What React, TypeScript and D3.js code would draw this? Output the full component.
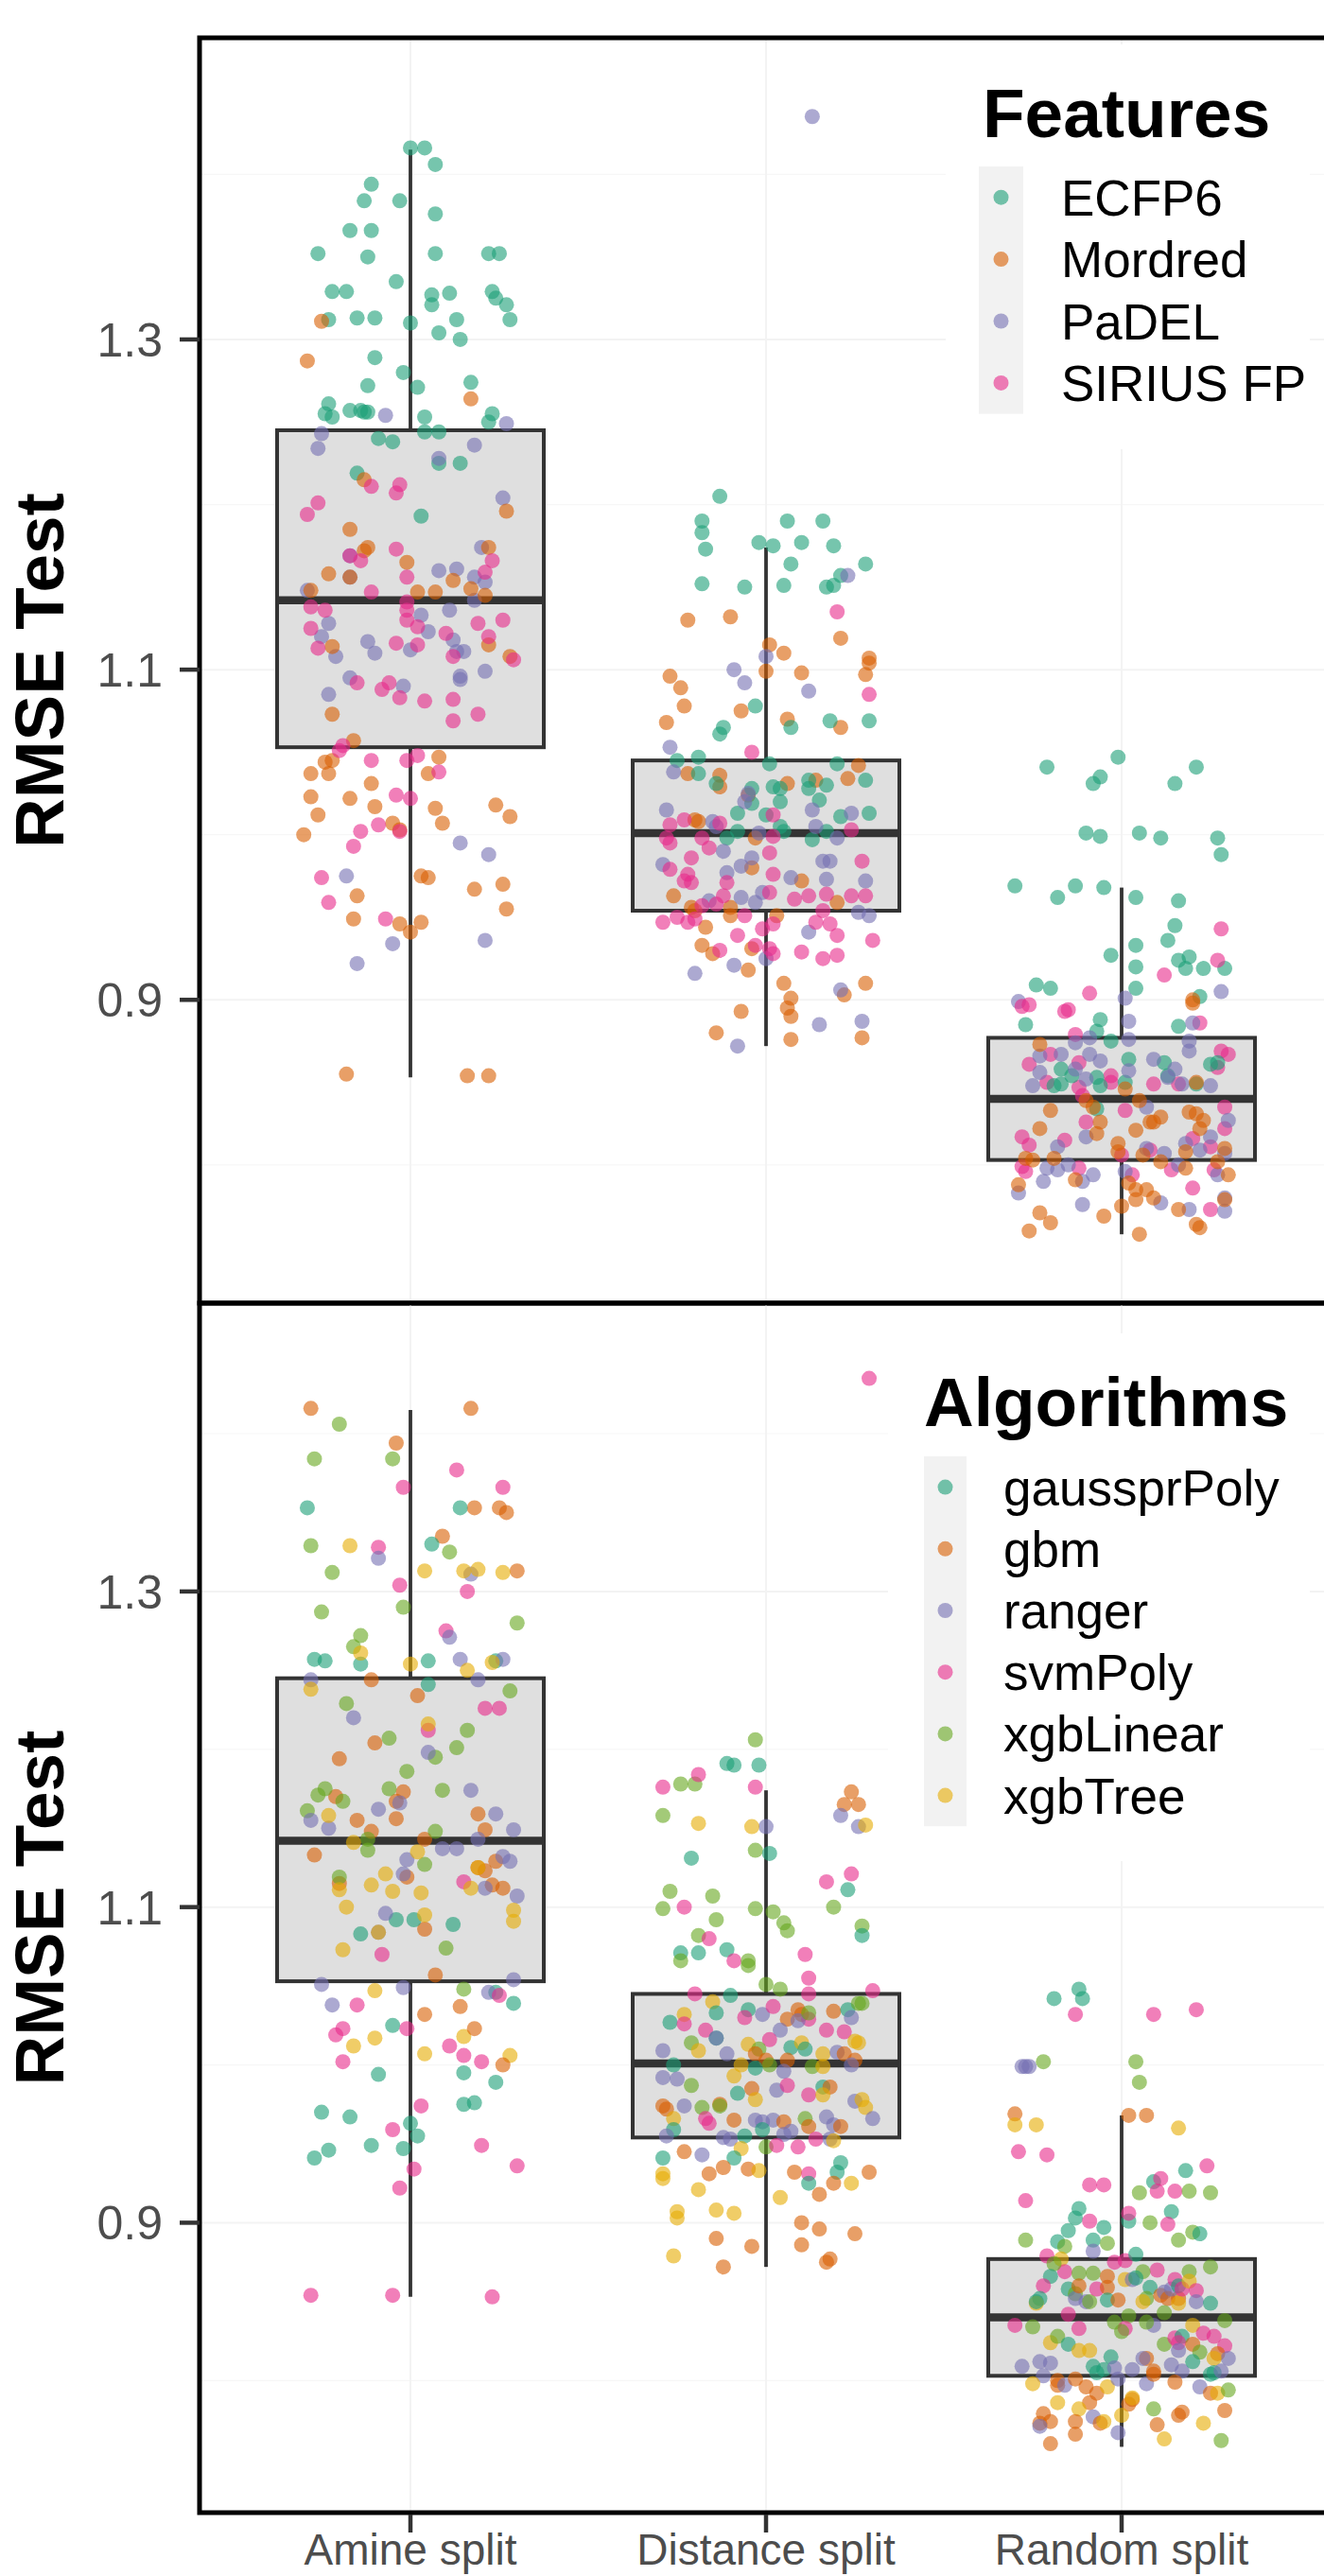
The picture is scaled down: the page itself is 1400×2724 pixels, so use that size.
import React from 'react'
import * as d3 from 'd3'

// categories and tick values
const splits = ['Amine split', 'Distance split', 'Random split']
const yTicks = [0.9, 1.1, 1.3]
const yMinor = [0.8, 1.0, 1.2, 1.4]
const yDomain = [0.7163, 1.4827]

// boxplot statistics per split (same runs in both panels)
const whiskerLow = [0.853, 0.872, 0.758]
const q1 = [1.053, 0.954, 0.803]
const median = [1.142, 1.001, 0.840]
const q3 = [1.245, 1.045, 0.877]
const whiskerHigh = [1.415, 1.174, 0.968]

const features = ['ECFP6', 'Mordred', 'PaDEL', 'SIRIUS FP']
const algorithms = ['gaussprPoly', 'gbm', 'ranger', 'svmPoly', 'xgbLinear', 'xgbTree']
const palette = ['#1B9E77', '#D95F02', '#7570B3', '#E7298A', '#66A61E', '#E6AB02']

type P = [number, number, number] // [group index, jitter (share of category step), RMSE]

const featAmine: P[] = [
  [0,0,1.416],[0,.04,1.416],[0,.07,1.406],[0,-.11,1.394],[0,-.13,1.384],[0,-.03,1.384],[0,.07,1.376],[0,-.17,1.366],[0,-.11,1.366],[0,-.26,1.352],[0,-.12,1.350],[0,.07,1.352],[0,.22,1.352],[0,.25,1.352],[0,-.04,1.335],[0,-.22,1.329],[0,-.18,1.329],[0,.06,1.327],[0,.11,1.328],[0,.23,1.329],[0,.24,1.325],[0,.27,1.321],[0,.06,1.321],[0,-.23,1.312],[0,-.15,1.313],[0,-.10,1.313],[0,0,1.310],[0,.13,1.312],[0,.28,1.312],[0,.08,1.304],[0,.14,1.300],[0,-.10,1.289],[0,-.02,1.280],[0,-.12,1.272],[0,.02,1.271],[0,.17,1.274],[0,-.23,1.261],[0,-.24,1.255],[0,-.22,1.253],[0,-.17,1.257],[0,-.14,1.257],[0,-.13,1.256],[0,-.12,1.256],[0,.04,1.253],[0,.23,1.255],[0,.22,1.250],[0,-.09,1.240],[0,-.05,1.238],[0,.04,1.244],[0,.08,1.244],[0,-.15,1.219],[0,.08,1.225],[0,.14,1.225],[0,.03,1.193],
  [2,-.07,1.254],[2,.27,1.249],[2,-.25,1.243],[2,-.26,1.234],[2,.18,1.236],[2,.08,1.228],[2,.26,1.204],[2,.20,1.174],[2,-.17,1.169],[2,.08,1.160],[2,.13,1.161],[2,-.17,1.156],[2,.18,1.156],[2,.21,1.153],[2,-.29,1.148],[2,.18,1.142],[2,.11,1.136],[2,.03,1.133],[2,-.23,1.128],[2,.05,1.123],[2,-.25,1.120],[2,-.12,1.117],[2,0,1.112],[2,-.10,1.110],[2,.12,1.118],[2,.13,1.111],[2,.15,1.111],[2,-.21,1.108],
  [2,-.17,1.095],[2,-.02,1.090],[2,-.23,1.085],[2,.14,1.096],[2,.14,1.094],[2,.21,1.099],[2,.14,.995],[2,.22,.988],[2,-.18,.975],[2,-.05,.934],[2,.21,.936],[2,-.15,.922],
  [1,-.25,1.311],[1,-.29,1.287],[1,.17,1.264],[1,-.13,1.215],[1,-.17,1.185],[1,-.13,1.172],[1,-.12,1.174],[1,-.01,1.165],[1,-.23,1.158],[1,-.17,1.156],[1,.12,1.154],[1,.22,1.174],[1,-.28,1.148],[1,.02,1.147],[1,.07,1.147],[1,.17,1.149],[1,.21,1.145],[1,.27,1.196],[1,.22,1.115],[1,.28,1.108],[1,-.22,1.114],
  [1,-.22,1.073],[1,-.16,1.057],[1,-.24,1.044],[1,-.22,1.045],[1,-.28,1.037],[1,-.23,1.037],[1,.08,1.047],[1,.05,1.037],[1,-.11,1.031],[1,-.28,1.023],[1,-.17,1.022],[1,-.10,1.017],[1,-.26,1.012],[1,.07,1.016],[1,.24,1.018],[1,.28,1.011],[1,-.30,1.000],[1,-.05,1.007],[1,-.03,1.003],[1,.09,1.007],[1,.03,.975],[1,.05,.974],[1,.18,.967],[1,.26,.970],[1,-.15,.963],[1,.27,.955],[1,-.16,.949],[1,-.03,.946],[1,.03,.947],[1,0,.941],[1,-.18,.855],[1,.16,.854],[1,.22,.854],
  [3,-.03,1.212],[3,-.11,1.211],[3,-.04,1.207],[3,-.26,1.201],[3,-.29,1.194],[3,-.04,1.173],[3,-.17,1.169],[3,-.14,1.166],[3,.23,1.166],[3,-.01,1.156],[3,.21,1.159],[3,-.11,1.147],[3,-.01,1.141],[3,-.01,1.136],[3,-.28,1.138],[3,-.24,1.136],[3,-.01,1.130],[3,-.28,1.125],[3,.19,1.128],[3,.02,1.126],[3,.26,1.130],[3,.10,1.122],[3,.22,1.120],[3,-.26,1.113],[3,-.04,1.116],[3,.02,1.115],[3,.12,1.108],[3,.29,1.106],
  [3,-.15,1.092],[3,-.08,1.088],[3,-.06,1.092],[3,-.03,1.083],[3,.04,1.081],[3,.12,1.082],[3,.12,1.069],[3,.19,1.073],[3,-.20,1.051],[3,-.19,1.054],[3,.02,1.048],[3,-.01,1.045],[3,-.11,1.045],[3,.08,1.038],[3,-.04,1.024],[3,0,1.022],[3,-.09,1.006],[3,-.14,1.002],[3,-.03,1.002],[3,-.16,.993],[3,-.25,.974],[3,-.23,.959],[3,-.07,.949],
]

const featDistance: P[] = [
  [2,.13,1.435],
  [0,-.13,1.205],[0,-.18,1.190],[0,-.18,1.183],[0,-.17,1.173],[0,.06,1.190],[0,.16,1.190],[0,-.02,1.177],[0,.02,1.175],[0,.10,1.177],[0,.19,1.175],[0,.07,1.164],[0,.28,1.164],[0,-.18,1.152],[0,-.06,1.150],[0,.05,1.151],[0,.17,1.150],[0,.19,1.151],[0,.21,1.157],
  [2,.23,1.157],[3,.20,1.135],[1,-.22,1.130],[1,-.10,1.132],[1,.21,1.119],[1,.01,1.115],[1,.05,1.110],[1,.29,1.107],[2,0,1.108],
  [1,-.27,1.096],[1,-.24,1.089],[1,-.23,1.078],[1,0,1.099],[1,.10,1.098],[1,.28,1.097],[1,.29,1.104],[1,-.07,1.075],[2,-.09,1.100],[2,-.06,1.092],[2,.12,1.087],[3,.29,1.085],[0,-.03,1.078],
  [1,-.28,1.068],[1,.06,1.070],[1,.21,1.065],[1,.26,1.042],[1,-.22,1.037],[1,-.13,1.036],[1,-.13,1.029],[1,-.05,1.024],[1,.06,1.031],[1,.14,1.033],[1,.23,1.034],[1,-.20,1.009],[1,-.19,1.008],[1,-.03,.998],[1,-.04,.980],[1,.10,.972],[1,-.26,.963],[1,.20,.959],[1,-.21,.956],[1,-.20,.954],[1,-.10,.956],[1,-.10,.951],[1,.03,.951],[1,-.17,.944],[1,-.18,.933],[1,-.15,.928],[1,-.04,.931],[1,-.05,.918],[1,.05,.910],[1,.28,.910],
  [0,-.12,1.065],[0,-.13,1.061],[0,.07,1.065],[0,.18,1.069],[0,.29,1.069],[0,-.25,1.045],[0,-.19,1.047],[0,.01,1.043],[0,.20,1.043],[0,-.19,1.037],[0,-.14,1.031],[0,-.04,1.028],[0,.02,1.029],[0,.04,1.028],[0,.12,1.028],[0,.12,1.033],[0,.17,1.030],[0,.28,1.033],[0,-.04,1.019],[0,.04,1.020],[0,.15,1.021],[0,-.08,1.013],[0,0,1.012],[0,.21,1.011],[0,.29,1.013],[0,-.11,.998],[0,-.08,1.002],[0,.04,1.005],[0,.05,1.002],[0,.13,.997],[0,.17,1.002],
  [2,-.27,1.053],[2,-.26,1.038],[2,-.05,1.025],[2,-.06,1.020],[2,.13,1.015],[2,-.28,1.015],[2,.24,1.013],[2,-.15,1.008],[2,-.14,1.005],[2,-.02,1.001],[2,.14,1.005],[2,.20,.998],[2,-.12,.990],[2,-.29,.982],[2,-.04,.986],[2,-.07,.981],[2,.16,.984],[2,.18,.984],[2,-.11,.977],[2,.07,.974],[2,.17,.973],[2,.28,.972],[2,-.07,.962],[2,-.03,.959],[2,-.01,.965],[2,-.16,.960],[2,.26,.953],[2,.29,.951],[2,.12,.941],[2,0,.925],[2,-.09,.921],[2,-.20,.916],
  [3,-.04,1.050],[3,.02,1.012],[3,-.27,1.006],[3,-.23,1.009],[3,-.13,1.007],[3,.02,.999],[3,.24,1.003],[3,-.28,.998],[3,-.27,.995],[3,-.18,.998],[3,-.16,.992],[3,-.21,.986],[3,-.27,.979],[3,.01,.989],[3,.27,.984],[3,-.22,.976],[3,.02,.976],[3,-.23,.972],[3,-.21,.971],[3,-.11,.971],[3,-.12,.963],[3,.01,.965],[3,.08,.961],[3,.12,.963],[3,.17,.964],[3,.24,.963],[3,.28,.963],[3,-.18,.957],[3,-.14,.958],[3,-.06,.951],[3,.16,.954],[3,-.29,.947],[3,-.25,.950],[3,-.22,.947],[3,-.20,.949],[3,-.01,.943],[3,.02,.946],[3,.14,.947],[3,.18,.946],[3,-.08,.939],[3,.20,.939],[3,-.13,.930],[3,-.03,.933],[3,.01,.931],[3,.02,.928],[3,.10,.929],[3,.16,.925],[3,.20,.927],[3,.30,.936],
  [1,.07,.901],[1,.06,.895],[1,.07,.890],[1,-.07,.893],[1,-.14,.880],[1,.07,.876],[1,.27,.877],[1,.22,.903],[2,.21,.906],[2,.15,.885],[2,.27,.887],[2,-.08,.872],
]

const featRandom: P[] = [
  [0,-.01,1.047],[0,-.21,1.041],[0,.21,1.041],[0,-.06,1.035],[0,-.08,1.031],[0,.15,1.031],[0,-.10,1.001],[0,-.06,.999],[0,.05,1.001],[0,.11,.998],[0,.27,.998],[0,.28,.988],[0,-.30,.969],[0,-.18,.962],[0,-.13,.969],[0,-.05,.968],[0,.04,.962],[0,.16,.960],[0,.15,.945],[0,.13,.936],[0,.04,.933],[0,-.03,.927],[0,.04,.920],[0,.16,.924],[0,.19,.926],[0,.18,.919],[0,.23,.919],[0,.29,.919],[0,.04,.907],[0,-.24,.909],[0,-.20,.907],[0,.22,.902],
  [3,.28,.943],[3,.27,.924],[3,.12,.915],[3,-.09,.904],[2,.28,.905],[2,.01,.901],[2,-.29,.899],[1,.20,.900],
  [3,-.28,.896],[3,-.26,.897],[3,-.16,.893],[3,-.15,.894],[3,-.13,.879],[3,.22,.886],[3,-.20,.867],[3,-.26,.861],[3,-.12,.862],[3,-.03,.854],[3,-.21,.850],[3,-.12,.847],[3,-.03,.850],[3,.09,.849],[3,.16,.849],[3,.28,.869],[3,.30,.867],[3,.27,.859],[3,-.11,.842],[3,.01,.833],[3,.29,.835],[3,-.10,.826],[3,-.28,.817],[3,-.26,.812],[3,-.16,.815],[3,.29,.822],[3,.20,.816],[3,.25,.811],[3,0,.806],[3,.08,.809],[3,-.28,.799],[3,-.27,.796],[3,-.12,.798],[3,.03,.794],[3,.14,.797],[3,.26,.797],[3,.20,.786],[3,.25,.773],
  [0,-.27,.885],[0,-.06,.888],[0,-.07,.881],[0,-.03,.875],[0,.16,.884],[0,.02,.864],[0,-.17,.858],[0,-.14,.854],[0,-.07,.853],[0,-.19,.848],[0,-.17,.849],[0,-.06,.848],[0,.01,.850],[0,.12,.862],[0,.13,.854],[0,.21,.849],[0,.25,.861],[0,.27,.862],[0,-.07,.834],
  [2,.02,.887],[2,-.09,.877],[2,.02,.876],[2,-.13,.874],[2,.20,.886],[2,.19,.875],[2,.19,.869],[2,-.23,.866],[2,-.17,.867],[2,-.09,.867],[2,-.06,.863],[2,-.23,.856],[2,-.13,.858],[2,-.10,.852],[2,.02,.857],[2,-.25,.848],[2,.09,.864],[2,.15,.858],[2,.13,.853],[2,.17,.849],[2,.25,.848],[2,.07,.835],[2,.30,.827],[2,-.10,.817],[2,-.18,.811],[2,.25,.817],[2,.18,.813],[2,.07,.810],[2,.12,.807],[2,.22,.809],[2,.29,.807],[2,-.21,.798],[2,-.18,.797],[2,-.15,.800],[2,-.08,.794],[2,-.11,.790],[2,.01,.796],[2,.16,.800],[2,.27,.794],[2,-.22,.790],[2,-.29,.783],[2,.11,.777],[2,.19,.773],[2,.29,.780],[2,.29,.772],[2,-.11,.776],
  [1,.20,.898],[1,-.23,.873],[1,.01,.846],[1,.21,.850],[1,-.10,.839],[1,-.08,.835],[1,-.20,.833],[1,.05,.839],[1,.11,.829],[1,.08,.826],[1,.09,.826],[1,.19,.832],[1,.21,.831],[1,.23,.827],[1,-.23,.822],[1,-.06,.826],[1,-.07,.819],[1,.04,.821],[1,-.01,.813],[1,.22,.822],[1,.29,.810],[1,-.01,.808],[1,.06,.806],[1,.18,.808],[1,-.27,.804],[1,-.25,.803],[1,-.19,.804],[1,-.13,.791],[1,.11,.802],[1,.18,.798],[1,.27,.802],[1,.30,.794],[1,-.29,.788],[1,.02,.789],[1,.04,.785],[1,.07,.785],[1,.09,.780],[1,.04,.779],[1,.16,.773],[1,.29,.779],[1,-.23,.771],[1,-.20,.765],[1,-.05,.769],[1,0,.775],[1,.21,.764],[1,.22,.762],[1,-.26,.760],[1,.05,.758],
]

const algAmine: P[] = [
  [1,-.28,1.416],[1,.17,1.416],[1,-.04,1.394],[1,.18,1.353],[1,.25,1.353],[1,.27,1.350],[1,.09,1.335],[1,.30,1.313],[1,-.11,1.244],[1,.02,1.234],[1,-.10,1.204],[1,-.20,1.194],[1,-.02,1.173],[1,-.04,1.167],[1,-.21,1.170],[1,-.15,1.155],[1,-.11,1.148],[1,-.04,1.156],[1,.19,1.159],[1,.21,1.149],[1,.04,1.143],[1,-.27,1.133],[1,-.20,1.115],[1,-.01,1.119],[1,.19,1.125],[1,.21,1.123],[1,.24,1.129],[1,.23,1.114],[1,.26,1.112],[1,.04,1.086],
  [4,-.20,1.406],[4,-.27,1.384],[4,-.05,1.384],[4,-.28,1.329],[4,.11,1.325],[4,-.22,1.312],[4,-.25,1.287],[4,-.02,1.290],[4,.30,1.280],[4,-.14,1.272],[4,-.16,1.265],[4,.28,1.237],[4,-.18,1.229],[4,-.06,1.207],[4,.16,1.212],[4,.13,1.201],[4,.07,1.195],[4,-.01,1.186],[4,-.06,1.175],[4,-.24,1.175],[4,-.26,1.171],[4,-.19,1.167],[4,-.29,1.161],[4,.09,1.174],[4,.07,1.148],[4,-.12,1.136],[4,.04,1.127],[4,-.20,1.119],[4,-.12,1.143],
  [0,-.29,1.353],[0,.14,1.353],[0,.06,1.330],[0,-.27,1.257],[0,-.24,1.256],[0,-.14,1.254],[0,.05,1.256],[0,.05,1.241],[0,.24,1.256],[0,-.04,1.092],[0,.01,1.092],[0,.12,1.089],[0,-.14,1.083],
  [3,.13,1.377],[3,-.02,1.366],[3,.26,1.366],[3,-.09,1.328],[3,-.03,1.304],[3,.16,1.300],[3,.10,1.275],[3,.21,1.226],[3,.25,1.226],[3,.05,1.212],[3,.15,1.116],
  [2,-.09,1.321],[2,.17,1.311],[2,.11,1.271],[2,.14,1.257],[2,.26,1.257],[2,.19,1.244],[2,-.28,1.244],[2,-.16,1.220],[2,.05,1.198],[2,.17,1.174],[2,-.09,1.162],[2,-.03,1.166],[2,-.28,1.155],[2,-.23,1.150],[2,.24,1.159],[2,.29,1.149],[2,.09,1.137],[2,.13,1.137],[2,.19,1.143],[2,-.01,1.130],[2,.26,1.132],[2,.28,1.129],[2,-.02,1.121],[2,.30,1.107],[2,.21,1.112],[2,-.07,1.096],[2,-.09,1.084],
  [5,-.17,1.329],[5,.04,1.313],[5,.15,1.313],[5,.19,1.314],[5,.26,1.312],[5,-.14,1.261],[5,0,1.254],[5,.16,1.250],[5,.23,1.255],[5,-.28,1.238],[5,.05,1.216],[5,-.23,1.158],[5,-.16,1.141],[5,.02,1.135],[5,-.07,1.121],[5,-.11,1.114],[5,-.05,1.110],[5,-.20,1.111],[5,.03,1.109],[5,.17,1.112],[5,.19,1.125],[5,-.18,1.100],[5,.04,1.095],[5,.29,1.098],[5,.29,1.091],
  [0,-.05,1.025],[0,-.09,.994],[0,.15,.995],[0,.24,.989],[0,-.25,.970],[0,-.17,.967],[0,.15,.975],[0,.18,.976],[0,0,.963],[0,.02,.955],[0,-.11,.949],[0,-.02,.947],[0,-.23,.946],[0,-.27,.941],[0,.29,1.039],[0,.24,1.046],
  [2,-.25,1.051],[2,-.02,1.049],[2,-.22,1.038],[2,.22,1.046],[2,.29,1.054],
  [5,-.09,1.084],[5,-.19,1.073],[5,-.10,1.047],[5,-.10,1.017],[5,-.16,1.012],[5,.04,1.007],[5,.15,1.018],[5,.28,1.006],
  [3,-.08,1.070],[3,-.15,1.038],[3,-.19,1.023],[3,-.21,1.019],[3,-.01,1.023],[3,-.19,1.002],[3,.11,1.012],[3,.15,1.006],[3,.20,1.002],[3,.03,.974],[3,-.05,.959],[3,.01,.934],[3,.20,.949],[3,.30,.936],[3,-.03,.922],[3,-.28,.854],[3,-.05,.854],[3,.23,.853],[3,.25,1.044],
  [1,.07,1.057],[1,.04,1.032],[1,.14,1.037],[1,.18,1.023],[1,.26,1.000],
  [4,.10,1.074],[4,.15,1.048],
]

const algDistance: P[] = [
  [3,.29,1.435],
  [4,-.03,1.206],[4,-.24,1.178],[4,-.20,1.178],[4,-.29,1.158],[4,-.03,1.136],[4,-.27,1.110],[4,-.15,1.107],[4,-.29,1.099],[4,-.14,1.092],[4,-.03,1.099],[4,.02,1.097],[4,.19,1.100],[4,.27,1.088],[4,.05,1.090],[4,.06,1.085],[4,-.19,1.082],
  [0,-.11,1.191],[0,-.09,1.190],[0,-.02,1.190],[0,-.21,1.131],[0,.01,1.134],[0,.23,1.111],[0,.27,1.082],
  [3,-.19,1.184],[3,-.03,1.176],[3,-.29,1.176],[3,-.23,1.100],[3,.17,1.116],[3,.24,1.121],[3,-.16,1.080],
  [1,.24,1.173],[1,.22,1.165],[1,.26,1.165],[2,0,1.151],[2,.21,1.158],[2,.26,1.151],[5,-.19,1.153],[5,-.04,1.151],[5,.28,1.152],
  [0,-.24,1.071],[4,-.24,1.066],[0,-.19,1.071],[0,-.11,1.073],[3,-.09,1.066],[4,-.05,1.066],[4,-.05,1.063],[3,.11,1.070],[4,0,1.051],[4,.04,1.048],[3,.12,1.055],[3,.12,1.045],[3,.30,1.047],[3,-.20,1.045],[0,-.10,1.044],[5,-.15,1.040],[0,-.14,1.033],[5,-.23,1.032],[0,-.27,1.027],[3,-.23,1.026],[0,-.05,1.035],[3,-.06,1.030],[2,-.01,1.032],[3,.02,1.037],[1,.06,1.029],[1,.09,1.035],[1,.10,1.032],[3,.12,1.029],[2,.09,1.028],[4,.12,1.033],[1,.19,1.034],[0,.23,1.035],[4,.26,1.039],[4,.27,1.039],[2,.24,1.030],
  [3,-.17,1.022],[0,-.14,1.017],[2,-.14,1.017],[2,.04,1.022],[3,.01,1.016],[3,.17,1.022],[3,.22,1.021],[5,.25,1.015],[5,.26,1.014],[4,-.21,1.014],[5,-.19,1.009],[2,-.29,1.009],[2,-.11,1.007],[5,-.05,1.013],[4,-.02,1.010],[1,-.03,1.007],[1,0,1.003],[4,.01,1.000],[0,.07,1.011],[5,.10,1.014],[0,.11,1.010],[5,.16,1.007],[2,.20,1.008],[1,.22,1.007],[1,.25,1.003],[2,.24,1.000],[0,-.26,1.000],[5,-.07,1.000],[1,.06,1.003],[4,.13,.999],[5,.16,.999],[0,-.03,.998],[2,.05,.996],[5,-.09,.993],[2,-.29,.992],[2,-.25,.991],[4,-.21,.987],
  [0,-.08,.982],[1,-.04,.985],[5,-.03,.978],[2,.03,.984],[3,.06,.987],[3,.12,.981],[0,.16,.986],[1,.18,.986],[5,.16,.981],[2,.25,.977],[5,.27,.978],[5,.28,.973],[1,-.29,.974],[1,-.28,.972],[2,-.23,.974],[4,-.18,.973],[1,-.13,.975],[4,-.13,.974],[5,-.26,.966],[3,-.17,.966],[3,-.16,.963],[1,-.09,.965],[2,-.03,.965],[2,-.01,.964],[2,.02,.965],[0,-.01,.959],[1,.05,.964],[2,.07,.958],[2,.05,.956],[4,.11,.966],[1,.12,.961],[2,.17,.967],[2,.19,.962],[1,.21,.961],[2,.30,.966],
  [0,-.26,.959],[2,-.28,.955],[2,-.12,.954],[2,-.10,.953],[0,-.06,.955],[4,0,.948],[3,.03,.949],[3,.09,.948],[3,.14,.953],[2,.18,.953],[5,.19,.952],[0,-.29,.941],[1,-.23,.945],[2,-.18,.943],[5,-.07,.947],[0,-.09,.941],[0,.21,.938],[1,-.12,.935],[1,-.05,.934],[5,-.02,.933],[1,.08,.932],[1,.29,.932],[1,-.16,.931],[3,.12,.931],[5,-.29,.931],[0,.20,.932],
  [5,.24,.925],[0,.12,.925],[1,.15,.918],[1,.19,.925],[5,.04,.916],[5,-.19,.921],[5,-.25,.907],[5,-.25,.903],[5,-.14,.908],[5,-.09,.906],[1,.10,.900],[1,.15,.896],[1,.25,.893],[1,-.14,.890],[1,-.04,.885],[1,.10,.886],[5,-.26,.879],[1,-.12,.872],[1,.17,.875],[1,.18,.877],[5,-.29,.928],
]

const algRandom: P[] = [
  [0,-.12,1.048],[0,-.11,1.042],[0,-.19,1.042],[0,.18,.933],[0,.09,.926],[0,.14,.907],[0,-.12,.909],[0,-.13,.903],[0,-.15,.895],[0,-.05,.897],[0,.02,.901],
  [3,-.13,1.032],[3,.09,1.032],[3,.21,1.035],[3,-.29,.945],[3,-.21,.943],[3,-.09,.924],[3,-.05,.924],[3,-.27,.914],[3,.10,.920],[3,.15,.920],[3,.24,.936],[3,.02,.906],[3,-.09,.901],[3,.13,.899],[3,.11,.928],
  [2,-.28,.999],[2,-.27,.999],[2,-.26,.999],
  [4,-.22,1.002],[4,.04,1.002],[4,.05,.989],[4,.05,.919],[4,.19,.920],[4,.25,.919],[4,.08,.900],[4,.20,.894],
  [1,-.30,.969],[1,.02,.968],[1,.07,.968],[5,-.30,.962],[5,-.24,.962],[5,.16,.960],
  [4,-.27,.889],[0,-.18,.888],[4,-.16,.885],[0,-.08,.889],[2,-.08,.882],[4,-.04,.887],[4,.16,.889],[0,.22,.893],[3,-.21,.879],[5,-.17,.877],[3,-.16,.869],[4,-.19,.874],[0,-.20,.866],[4,-.12,.868],[4,-.08,.868],[3,-.02,.875],[3,.01,.876],[0,.04,.880],[3,.10,.870],[4,.06,.869],[4,.19,.869],[4,.25,.872],[1,-.04,.866],[5,.01,.864],[2,.03,.864],[0,.04,.865],
  [3,-.22,.860],[0,-.23,.852],[5,-.24,.849],[0,-.24,.850],[0,-.15,.858],[4,-.13,.855],[2,-.13,.852],[2,-.10,.850],[4,-.09,.850],[1,-.12,.860],[3,-.07,.858],[1,-.04,.859],[0,-.04,.851],[1,-.01,.851],[0,.08,.859],[4,.07,.852],[5,.06,.850],[1,.11,.854],[2,.12,.856],[1,.13,.852],[1,.16,.852],[5,.16,.849],[2,.14,.858],[3,.15,.864],[0,.16,.860],[3,.17,.858],[5,.19,.863],[3,.21,.857],[2,.21,.850],[0,.25,.849],
  [3,-.15,.842],[4,.12,.843],[4,.02,.841],[3,-.30,.835],[4,-.25,.834],[4,-.02,.837],[2,.09,.835],[4,.07,.837],[3,-.12,.833],[3,.01,.833],[4,0,.831],[5,.20,.835],[4,.29,.838],[5,-.20,.824],[4,-.18,.828],[0,-.15,.823],[5,-.12,.819],[5,-.09,.819],[0,-.03,.815],[4,.12,.823],[3,.15,.827],[0,.17,.828],[3,.16,.824],[2,.16,.819],[1,.20,.823],[3,.23,.830],[3,.26,.828],[4,.22,.818],[3,.29,.822],[1,.27,.817],[2,.30,.814],
  [2,-.28,.809],[2,-.23,.812],[2,-.20,.811],[2,-.22,.803],[0,-.08,.809],[0,-.05,.807],[0,-.07,.805],[2,-.02,.808],[2,.03,.807],[1,.07,.814],[2,.06,.814],[1,.09,.806],[2,.14,.810],[2,.17,.806],[0,.20,.812],[5,.26,.814],[0,.25,.804],[0,.26,.805],[2,.28,.806],
  [5,-.25,.798],[1,-.18,.800],[1,-.18,.797],[2,-.16,.797],[1,-.13,.801],[1,-.10,.796],[1,-.07,.792],[5,-.04,.796],[2,-.01,.801],[1,.03,.788],[1,.02,.785],[5,.03,.789],[1,-.09,.786],[2,.07,.798],[1,.09,.804],[1,.15,.799],[2,.22,.796],[1,.25,.792],[5,.27,.792],[4,.30,.794],
  [5,-.18,.786],[5,-.12,.782],[2,-.08,.777],[1,-.22,.779],[1,-.20,.774],[1,-.23,.773],[2,-.23,.771],[1,-.13,.774],[1,-.06,.773],[5,-.05,.774],[5,0,.778],[4,.09,.782],[1,.16,.778],[1,.17,.780],[1,.29,.781],[1,.10,.772],[5,.23,.773],[1,-.13,.766],[2,-.01,.767],[5,.12,.763],[1,-.20,.760],[4,.28,.762],
]

const FONT = "'Liberation Sans', Arial, Helvetica, sans-serif"

export default function App() {
  const W = 1400
  const H = 2724
  const left = 211
  const right = 1414

  const x = d3.scalePoint<string>().domain(splits).range([434, 1186])
  const step = x.step()
  const boxW = step * 0.75

  const panels = [
    {
      y0: 40, y1: 1378, title: 'Features', keys: features,
      data: [featAmine, featDistance, featRandom],
      lg: { x0: 1000, y0: 47, x1: 1385, y1: 475, titleX: 1039, titleY: 145, kx: 1035, ky: 176, kw: 47, kh: 65.4, tx: 1122 },
    },
    {
      y0: 1378, y1: 2657, title: 'Algorithms', keys: algorithms,
      data: [algAmine, algDistance, algRandom],
      lg: { x0: 939, y0: 1410, x1: 1385, y1: 1968, titleX: 977, titleY: 1508, kx: 977, ky: 1540, kw: 45, kh: 65.2, tx: 1061 },
    },
  ]

  return (
    <svg width={W} height={H} viewBox={`0 0 ${W} ${H}`} style={{ display: 'block', background: '#fff' }} fontFamily={FONT}>
      <style>{'body{margin:0}'}</style>
      <rect x={0} y={0} width={W} height={H} fill="#fff" />
      {panels.map((p, pi) => {
        const y = d3.scaleLinear().domain(yDomain).range([p.y1, p.y0])
        const mid = (p.y0 + p.y1) / 2
        return (
          <g key={pi}>
            {/* grid */}
            {yMinor.map(v => (
              <line key={'mn' + v} x1={left} x2={right} y1={y(v)} y2={y(v)} stroke="#F7F7F7" strokeWidth={1.2} />
            ))}
            {yTicks.map(v => (
              <line key={'mj' + v} x1={left} x2={right} y1={y(v)} y2={y(v)} stroke="#F3F3F3" strokeWidth={2} />
            ))}
            {splits.map(s => (
              <line key={'vg' + s} x1={x(s)} x2={x(s)} y1={p.y0} y2={p.y1} stroke="#F3F3F3" strokeWidth={2} />
            ))}

            {/* boxes */}
            {splits.map((s, i) => {
              const cx = x(s)!
              return (
                <g key={'bx' + s}>
                  <line x1={cx} x2={cx} y1={y(whiskerHigh[i])} y2={y(q3[i])} stroke="#333" strokeWidth={3.8} />
                  <line x1={cx} x2={cx} y1={y(q1[i])} y2={y(whiskerLow[i])} stroke="#333" strokeWidth={3.8} />
                  <rect x={cx - boxW / 2} y={y(q3[i])} width={boxW} height={y(q1[i]) - y(q3[i])} fill="#DFDFDF" stroke="#333" strokeWidth={4} />
                  <line x1={cx - boxW / 2} x2={cx + boxW / 2} y1={y(median[i])} y2={y(median[i])} stroke="#333" strokeWidth={8.5} />
                </g>
              )
            })}

            {/* jittered points */}
            {splits.map((s, i) => (
              <g key={'pt' + s}>
                {p.data[i].map((d, k) => (
                  <circle key={k} cx={x(s)! + d[1] * step} cy={y(d[2])} r={8} fill={palette[d[0]]} fillOpacity={0.6} />
                ))}
              </g>
            ))}

            {/* panel border */}
            <rect x={left} y={p.y0} width={right - left} height={p.y1 - p.y0} fill="none" stroke="#000" strokeWidth={5} />

            {/* y axis */}
            {yTicks.map(v => (
              <g key={'yt' + v}>
                <line x1={190} x2={left} y1={y(v)} y2={y(v)} stroke="#333" strokeWidth={4.5} />
                <text x={172} y={y(v)} dy="0.36em" textAnchor="end" fontSize={50} fill="#4D4D4D">{d3.format('.1f')(v)}</text>
              </g>
            ))}
            <text transform={`translate(67,${mid}) rotate(-90)`} textAnchor="middle" fontSize={73} fontWeight="bold" fill="#000">RMSE Test</text>

            {/* legend */}
            <rect x={p.lg.x0} y={p.lg.y0} width={p.lg.x1 - p.lg.x0} height={p.lg.y1 - p.lg.y0} fill="#fff" />
            <text x={p.lg.titleX} y={p.lg.titleY} fontSize={73} fontWeight="bold" fill="#000">{p.title}</text>
            <rect x={p.lg.kx} y={p.lg.ky} width={p.lg.kw} height={p.lg.kh * p.keys.length} fill="#F2F2F2" />
            {p.keys.map((k, ki) => {
              const cy = p.lg.ky + p.lg.kh * (ki + 0.5)
              return (
                <g key={k}>
                  <circle cx={p.lg.kx + p.lg.kw / 2} cy={cy} r={8} fill={palette[ki]} fillOpacity={0.6} />
                  <text x={p.lg.tx} y={cy} dy="0.36em" fontSize={53} fill="#000">{k}</text>
                </g>
              )
            })}
          </g>
        )
      })}

      {/* x axis (bottom panel) */}
      {splits.map(s => (
        <g key={'xt' + s}>
          <line x1={x(s)} x2={x(s)} y1={2659} y2={2678} stroke="#333" strokeWidth={4.5} />
          <text x={x(s)} y={2712} textAnchor="middle" fontSize={46} fill="#4D4D4D">{s}</text>
        </g>
      ))}
    </svg>
  )
}
